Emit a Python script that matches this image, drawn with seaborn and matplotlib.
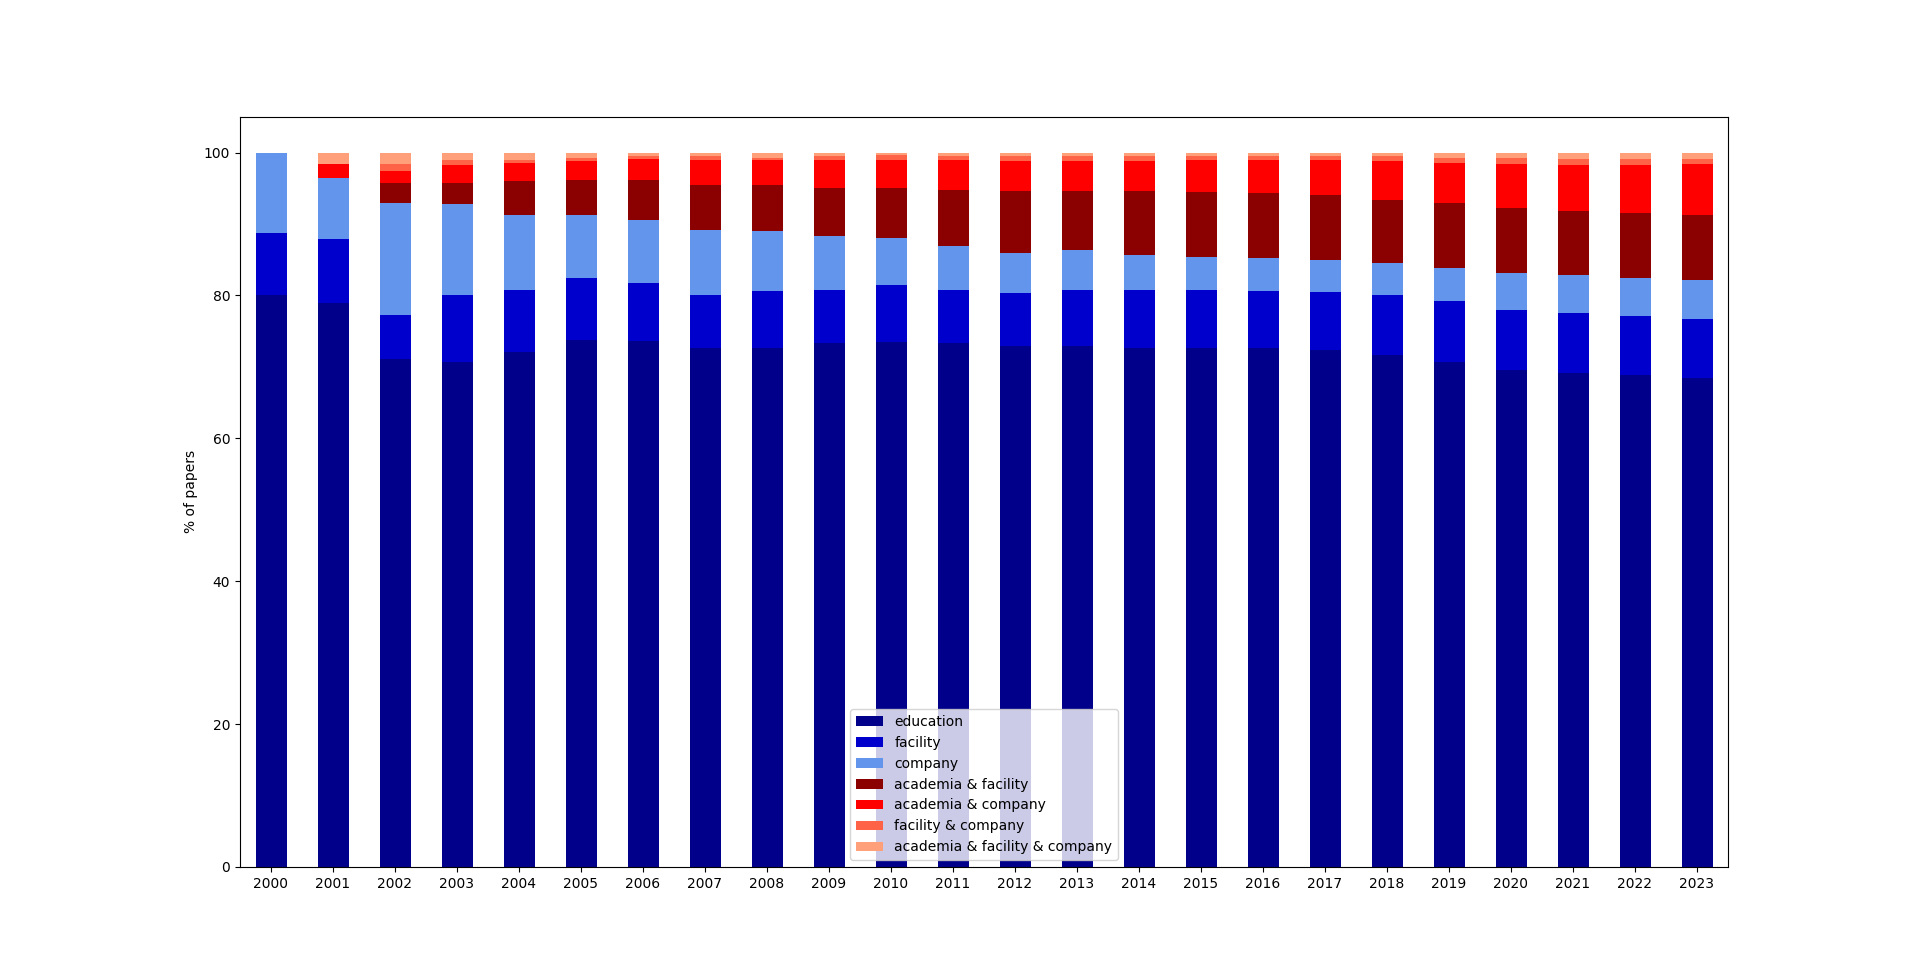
import numpy as np
import pandas as pd
import matplotlib
matplotlib.use('Agg')
import matplotlib.pyplot as plt
import seaborn as sns

years = [str(y) for y in range(2000, 2024)]

education = [80.0, 79.0, 71.1, 70.7, 72.1, 73.8, 73.6, 72.6, 72.7, 73.3, 73.5, 73.3,
             72.9, 72.9, 72.7, 72.6, 72.6, 72.4, 71.7, 70.7, 69.6, 69.2, 68.8, 68.5]
facility = [8.7, 8.9, 6.1, 9.3, 8.6, 8.7, 8.2, 7.5, 7.9, 7.5, 7.9, 7.5,
            7.5, 7.9, 8.1, 8.1, 8.0, 8.1, 8.4, 8.5, 8.4, 8.4, 8.3, 8.2]
company = [11.3, 8.6, 15.8, 12.8, 10.5, 8.7, 8.8, 9.0, 8.4, 7.5, 6.6, 6.1,
           5.6, 5.5, 4.9, 4.7, 4.7, 4.5, 4.5, 4.7, 5.1, 5.2, 5.4, 5.5]
academia_facility = [0.0, 0.0, 2.7, 3.0, 4.8, 4.9, 5.5, 6.4, 6.5, 6.7, 7.1, 7.8,
                     8.6, 8.3, 8.9, 9.1, 9.0, 9.0, 8.7, 9.1, 9.1, 9.0, 9.0, 9.0]
academia_company = [0.0, 1.9, 1.7, 2.4, 2.6, 2.7, 3.0, 3.4, 3.4, 3.9, 3.8, 4.2,
                    4.2, 4.2, 4.2, 4.4, 4.6, 4.9, 5.5, 5.6, 6.2, 6.4, 6.7, 7.2]
facility_company = [0.0, 0.0, 1.0, 0.7, 0.3, 0.5, 0.4, 0.6, 0.4, 0.6, 0.7, 0.6,
                    0.7, 0.7, 0.7, 0.6, 0.6, 0.6, 0.7, 0.7, 0.8, 0.9, 0.9, 0.7]
all_three = [0.0, 1.6, 1.6, 1.1, 1.1, 0.7, 0.5, 0.5, 0.7, 0.5, 0.4, 0.5,
             0.5, 0.5, 0.5, 0.5, 0.5, 0.5, 0.5, 0.7, 0.8, 0.9, 0.9, 0.9]

series = [
    ('education', education, 'darkblue'),
    ('facility', facility, 'mediumblue'),
    ('company', company, 'cornflowerblue'),
    ('academia & facility', academia_facility, 'darkred'),
    ('academia & company', academia_company, 'red'),
    ('facility & company', facility_company, 'tomato'),
    ('academia & facility & company', all_three, 'lightsalmon'),
]

fig, ax = plt.subplots(figsize=(19.2, 9.74), dpi=100)

bottom = np.zeros(len(years))
for name, vals, color in series:
    sns.barplot(x=years, y=vals, bottom=bottom, color=color, saturation=1,
                width=0.5, label=name, ax=ax, linewidth=0)
    bottom = bottom + np.array(vals)

ax.set_ylabel('% of papers')
ax.set_xlabel('')
ax.set_ylim(0, 105)
ax.set_xlim(-0.5, len(years) - 0.5)
ax.legend(loc='lower center')

plt.savefig('out.png', dpi=100)
